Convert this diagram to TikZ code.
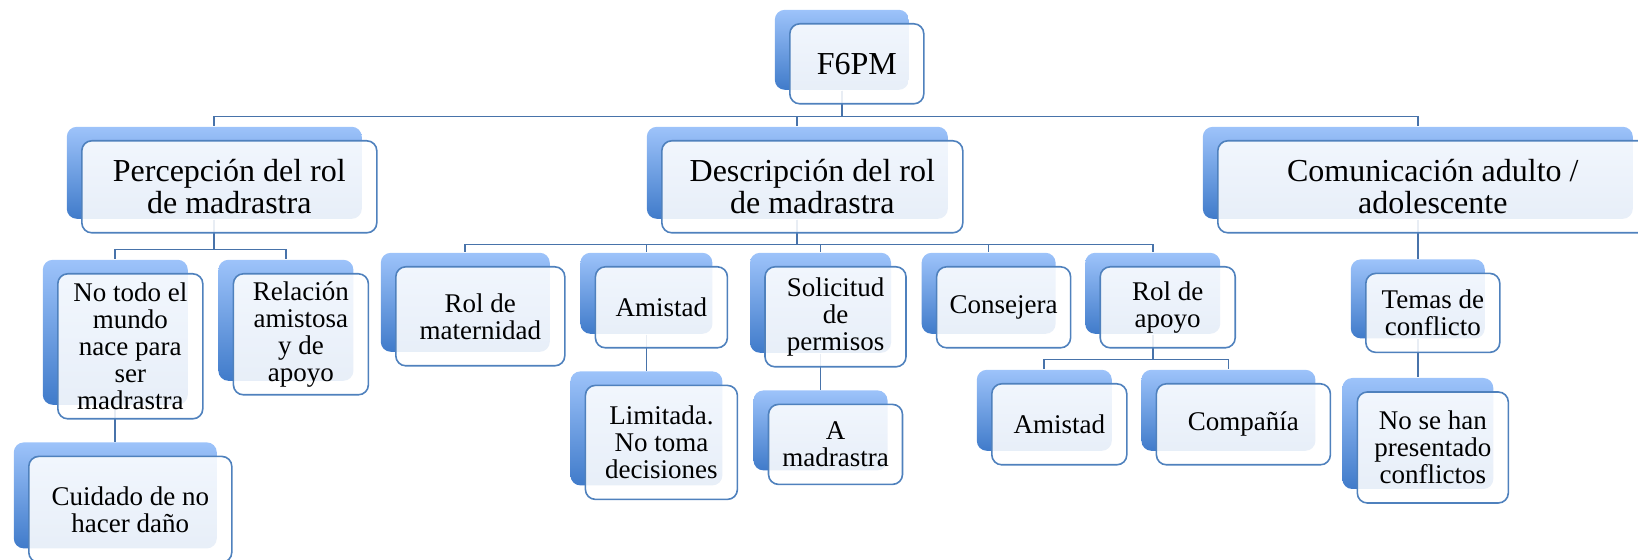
\documentclass[tikz,border=0pt]{standalone}
\usepackage{fontspec}
\setmainfont{Liberation Serif}
\usetikzlibrary{positioning, shadows, backgrounds}

\definecolor{boxLine}{RGB}{79,129,189}
\definecolor{connLine}{RGB}{72,115,170}
\definecolor{backTop}{RGB}{157,195,250}
\definecolor{backBottom}{RGB}{64,123,202}

\begin{document}
\begin{tikzpicture}[%
    x=0.5pt, y=-0.5pt,              % one unit is one pixel of the layout
    node distance=18pt and 14.5pt,  % Global setup of box spacing
    ]

\tikzset{
  base/.style={draw=boxLine, line width=0.8pt, rounded corners=5pt,
    fill=white, fill opacity=0.88, text opacity=1, align=center,
    inner sep=2pt, anchor=north west,
    general shadow={shadow xshift=-7.5pt, shadow yshift=7pt,
      fill opacity=1, top color=backTop, bottom color=backBottom}},
  head/.style={base, font=\fontsize{16}{16}\selectfont, minimum height=46pt},
  leaf/.style={base, font=\fontsize{13.5}{13.5}\selectfont},
  conn/.style={draw=connLine, line width=0.85pt,
    transform canvas={shift={(-7.5pt,7pt)}}}
  };

\useasboundingbox (0,0) rectangle (1638,560);

% ROOT
\node[head, minimum width=67pt, minimum height=40pt] (f6pm) at (789,23) {F6PM};

% First level
\node[head, minimum width=147.5pt] (percepcion) at (81,140) {Percepción del rol\\de madrastra};
\node[head, minimum width=150.5pt] (descripcion) at (661,140) {Descripción del rol\\de madrastra};
\node[head, minimum width=215pt] (comunicacion) at (1217,140) {Comunicación adulto /\\adolescente};

% Percepcion
\node[leaf, minimum width=72.5pt, minimum height=72.5pt] (noTodo) at (57,273)
    {No todo el\\mundo\\nace para\\ser\\madrastra};
\node[leaf, minimum width=67.5pt, minimum height=60.5pt,
      right=of noTodo.north east, anchor=north west] (relacion) {Relación\\amistosa\\y de\\apoyo};
\node[leaf, minimum width=101.5pt, minimum height=53pt, below=of noTodo] (cuidado)
    {Cuidado de no\\hacer daño};

% Descripcion
\node[leaf, minimum width=84.5pt, minimum height=49.5pt] (rolMaternidad) at (395,266) {Rol de\\maternidad};
\node[leaf, minimum width=66pt, minimum height=40.5pt,
      right=of rolMaternidad.north east, anchor=north west] (amistad) {Amistad};
\node[leaf, minimum width=70.5pt, minimum height=50pt,
      right=18pt of amistad.north east, anchor=north west] (solicitud) {Solicitud\\de\\permisos};
\node[leaf, minimum width=67pt, minimum height=40.5pt,
      right=of solicitud.north east, anchor=north west] (consejera) {Consejera};
\node[leaf, minimum width=67.5pt, minimum height=40.5pt,
      right=14pt of consejera.north east, anchor=north west] (rolApoyo) {Rol de\\apoyo};

\node[leaf, minimum width=76pt, minimum height=57pt, below=of amistad] (limitada)
    {Limitada.\\No toma\\decisiones};
\node[leaf, minimum width=67pt, minimum height=40pt, below=of solicitud] (aMadrastra) {A\\madrastra};

\node[leaf, minimum width=67.5pt, minimum height=40.5pt] (amistadApoyo) at (991,383) {Amistad};
\node[leaf, minimum width=87pt, minimum height=40.5pt,
      right=14pt of amistadApoyo.north east, anchor=north west] (compania) {Compañía};

% Comunicacion
\node[leaf, minimum width=67pt, minimum height=39.5pt, below=19.5pt of comunicacion] (temas)
    {Temas de\\conflicto};
\node[leaf, minimum width=75.5pt, minimum height=55.5pt, below=19pt of temas] (noConflictos)
    {No se han\\presentado\\conflictos};

% Connectors, behind the boxes
\begin{scope}[on background layer]
\draw[conn] (f6pm.south) -- ++(0,-13pt) -| (percepcion.north);
\draw[conn] (f6pm.south) -- ++(0,-13pt) -| (descripcion.north);
\draw[conn] (f6pm.south) -- ++(0,-13pt) -| (comunicacion.north);

\draw[conn] (percepcion.south) -- ++(0,-15pt) -| (noTodo.north);
\draw[conn] (percepcion.south) -- ++(0,-15pt) -| (relacion.north);
\draw[conn] (noTodo.south) -- (cuidado.north);

\draw[conn] (descripcion.south) -- ++(0,-12.5pt) -| (rolMaternidad.north);
\draw[conn] (descripcion.south) -- ++(0,-12.5pt) -| (amistad.north);
\draw[conn] (descripcion.south) -- ++(0,-12.5pt) -| (solicitud.north);
\draw[conn] (descripcion.south) -- ++(0,-12.5pt) -| (consejera.north);
\draw[conn] (descripcion.south) -- ++(0,-12.5pt) -| (rolApoyo.north);
\draw[conn] (amistad.south) -- (limitada.north);
\draw[conn] (solicitud.south) -- (aMadrastra.north);
\draw[conn] (rolApoyo.south) -- ++(0,-12.5pt) -| (amistadApoyo.north);
\draw[conn] (rolApoyo.south) -- ++(0,-12.5pt) -| (compania.north);

\draw[conn] (comunicacion.south) -- (temas.north);
\draw[conn] (temas.south) -- (noConflictos.north);
\end{scope}

\end{tikzpicture}
\end{document}
